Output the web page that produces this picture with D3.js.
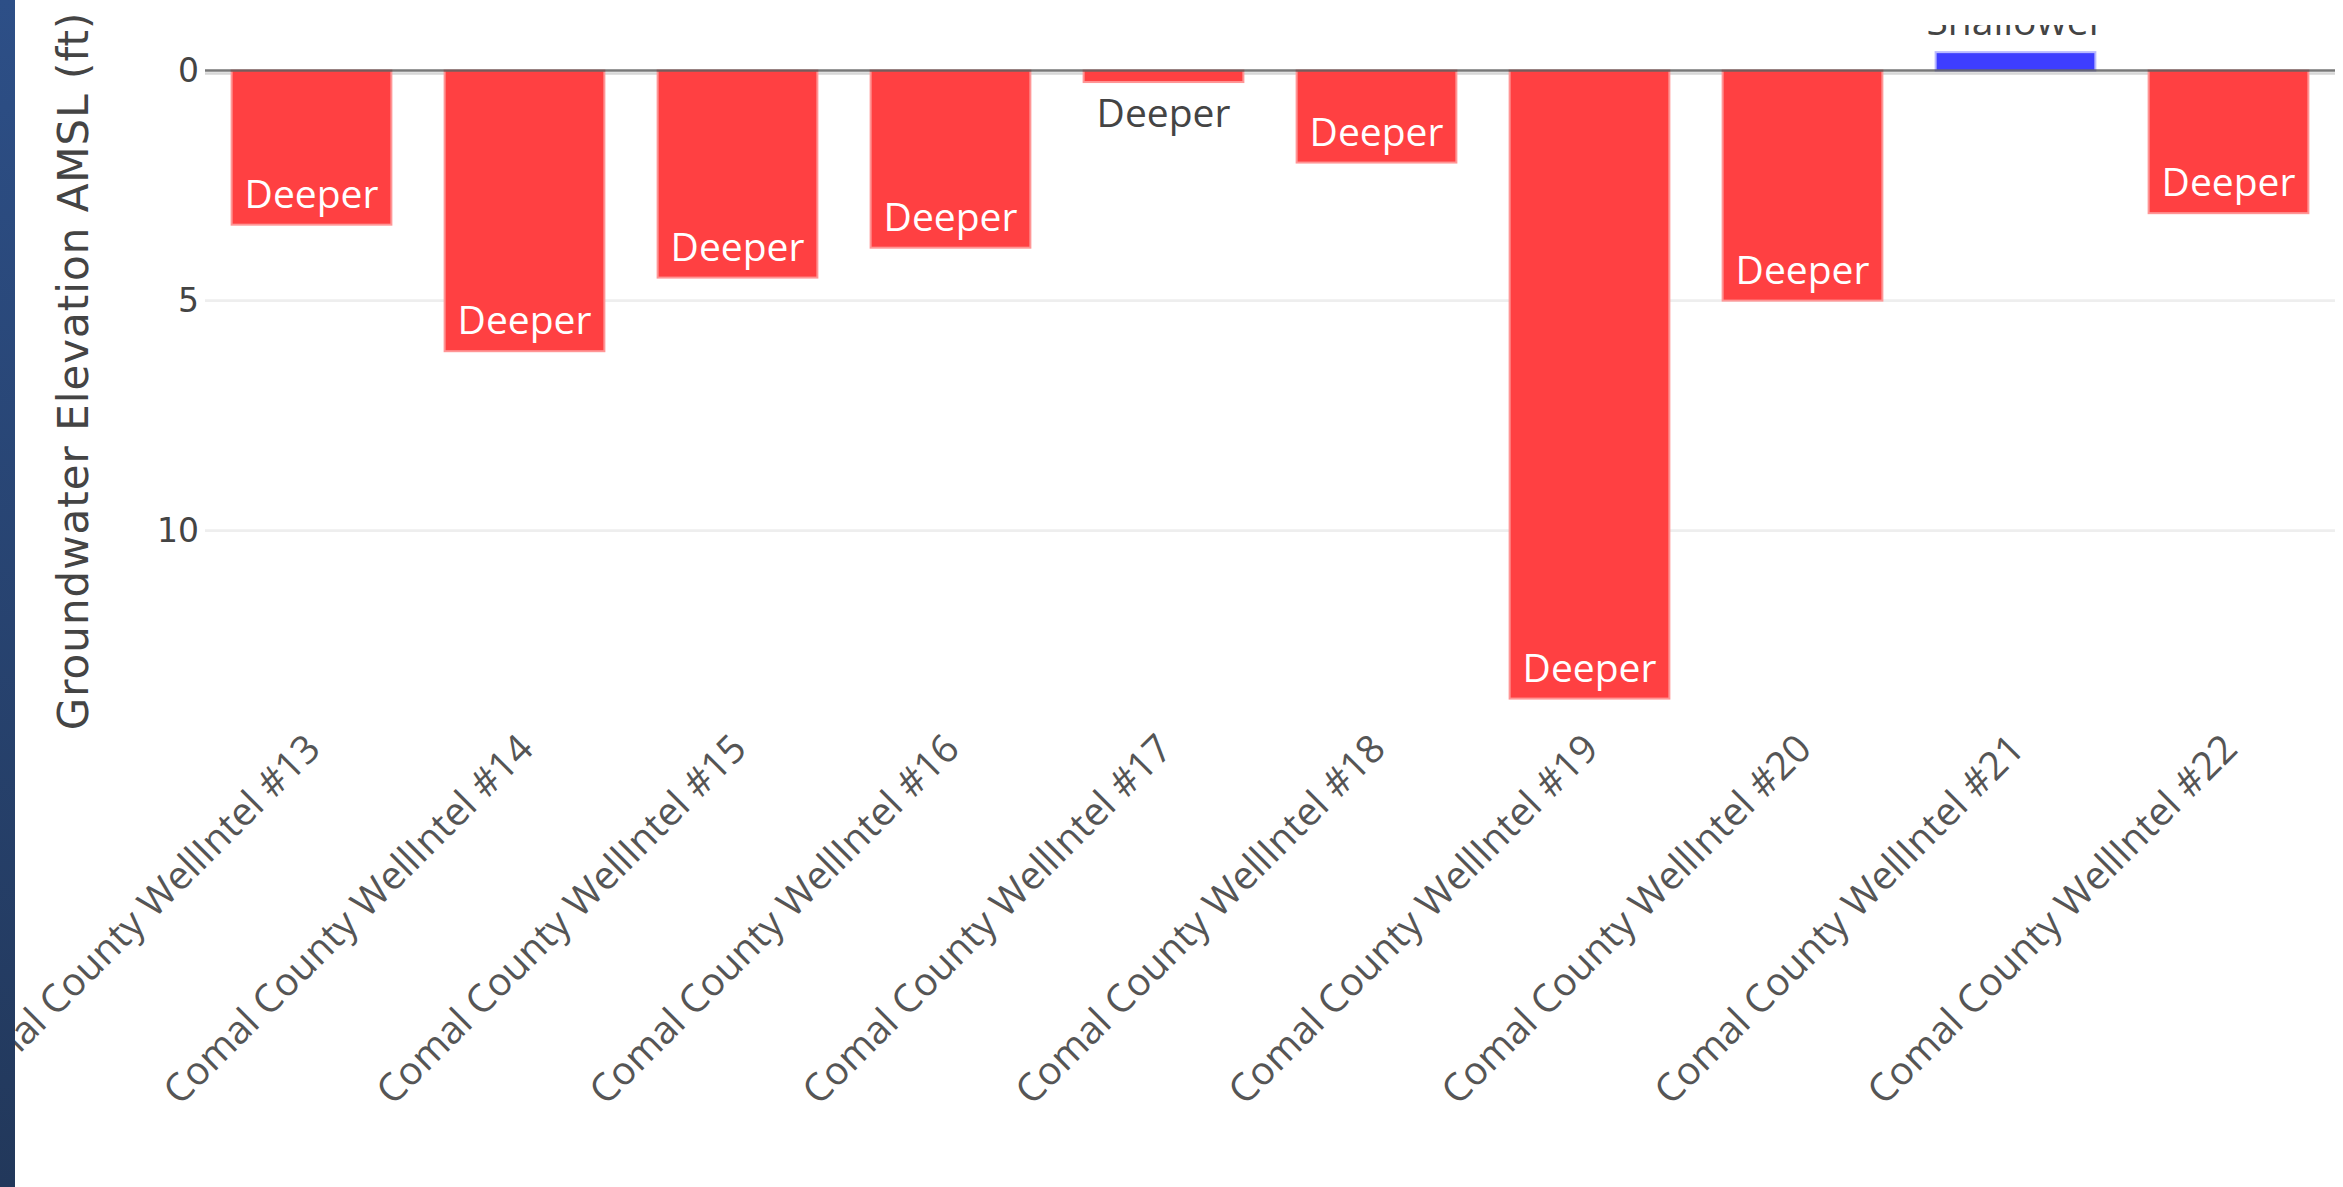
<!DOCTYPE html>
<html>
<head>
<meta charset="utf-8">
<script src="https://cdn.jsdelivr.net/npm/d3@7"></script>
<style>
  html, body { margin: 0; padding: 0; background: #fff; }
  svg { display: block; }
</style>
</head>
<body>
<svg id="chart" width="2343" height="1187"></svg>
<script>
// ---- data ----
const categories = [
  "Comal County WellIntel #13",
  "Comal County WellIntel #14",
  "Comal County WellIntel #15",
  "Comal County WellIntel #16",
  "Comal County WellIntel #17",
  "Comal County WellIntel #18",
  "Comal County WellIntel #19",
  "Comal County WellIntel #20",
  "Comal County WellIntel #21",
  "Comal County WellIntel #22"
];
const values = [3.35, 6.1, 4.5, 3.85, 0.25, 2.0, 13.65, 5.0, -0.4, 3.1];
const barLabels = ["Deeper", "Deeper", "Deeper", "Deeper", "Deeper", "Deeper", "Deeper", "Deeper", "Shallower", "Deeper"];
const yTicks = [0, 5, 10];
const yRange = [-0.99, 14.55];
const yTitle = "Groundwater Elevation AMSL (ft)";

// ---- layout ----
const W = 2343, H = 1187;
const plot = { left: 205, right: 2335, top: 25, bottom: 740 };
const svg = d3.select("#chart");

const x = d3.scaleBand().domain(categories)
  .range([plot.left, plot.right]).paddingInner(0.25).paddingOuter(0.125);
const y = d3.scaleLinear().domain(yRange).range([plot.top, plot.bottom]);

const defs = svg.append("defs");
defs.append("clipPath").attr("id", "plotclip").append("rect")
  .attr("x", plot.left).attr("y", plot.top)
  .attr("width", plot.right - plot.left).attr("height", plot.bottom - plot.top);
const grad = defs.append("linearGradient").attr("id", "navy")
  .attr("x1", 0).attr("y1", 0).attr("x2", 0).attr("y2", 1);
grad.append("stop").attr("offset", "0%").attr("stop-color", "#2d4f87");
grad.append("stop").attr("offset", "100%").attr("stop-color", "#22385b");

// y axis tick labels
const yAxisG = svg.append("g")
  .attr("transform", `translate(${plot.left},0)`)
  .call(d3.axisLeft(y).tickValues(yTicks).tickSize(0).tickPadding(6).tickFormat(d3.format("d")));
yAxisG.select(".domain").remove();
yAxisG.selectAll("text")
  .attr("font-family", "DejaVu Sans, Verdana, sans-serif")
  .attr("font-size", 33).attr("fill", "#444");

// gridlines
svg.append("g").selectAll("line").data(yTicks).join("line")
  .attr("x1", plot.left).attr("x2", plot.right)
  .attr("y1", d => y(d) + (d === 0 ? 3 : 0)).attr("y2", d => y(d) + (d === 0 ? 3 : 0))
  .attr("stroke", d => d === 0 ? "#d6d6d6" : "#eeeeee").attr("stroke-width", 2.6);

// bars
const g = svg.append("g").attr("clip-path", "url(#plotclip)");
const col = v => v >= 0 ? { fill: "rgb(255,64,66)", stroke: "rgb(255,150,150)" }
                        : { fill: "rgb(62,62,255)", stroke: "rgb(185,185,255)" };
g.selectAll("rect.bar").data(values).join("rect").attr("class", "bar")
  .attr("x", (d, i) => x(categories[i]))
  .attr("width", x.bandwidth())
  .attr("y", d => Math.min(y(0), y(d)))
  .attr("height", d => Math.abs(y(d) - y(0)))
  .attr("fill", d => col(d).fill)
  .attr("stroke", d => col(d).stroke)
  .attr("stroke-width", 2);

// zero line on top
svg.append("line")
  .attr("x1", plot.left).attr("x2", plot.right).attr("y1", y(0)).attr("y2", y(0))
  .attr("stroke", "rgba(68,68,68,0.72)").attr("stroke-width", 2.6);

// bar text
const textH = 42;
g.selectAll("text.bt").data(values).join("text").attr("class", "bt")
  .attr("x", (d, i) => x(categories[i]) + x.bandwidth() / 2)
  .attr("y", d => {
    const h = Math.abs(y(d) - y(0));
    if (d >= 0) return h > textH ? y(d) - 17 : y(d) + 45;
    return y(d) - 17;
  })
  .attr("text-anchor", "middle")
  .attr("font-family", "Open Sans, sans-serif")
  .attr("font-size", 39)
  .attr("fill", d => (d >= 0 && Math.abs(y(d) - y(0)) > textH) ? "#ffffff" : "#444")
  .text((d, i) => barLabels[i]);

// category labels
svg.append("g").selectAll("text").data(categories).join("text")
  .attr("transform", d => `translate(${x(d) + x.bandwidth() / 2 + 11},751) rotate(-45)`)
  .attr("text-anchor", "end")
  .attr("font-family", "Open Sans, sans-serif")
  .attr("font-size", 39)
  .attr("fill", "#555")
  .text(d => d);

// y title
svg.append("text")
  .attr("transform", `translate(73,371) rotate(-90)`)
  .attr("text-anchor", "middle").attr("dominant-baseline", "central")
  .attr("font-family", "DejaVu Sans, Verdana, sans-serif")
  .attr("font-size", 42).attr("letter-spacing", 1).attr("fill", "#444")
  .text(yTitle);

// left navy strip
svg.append("rect").attr("x", 0).attr("y", 0).attr("width", 15).attr("height", H)
  .attr("fill", "url(#navy)");
</script>
</body>
</html>
